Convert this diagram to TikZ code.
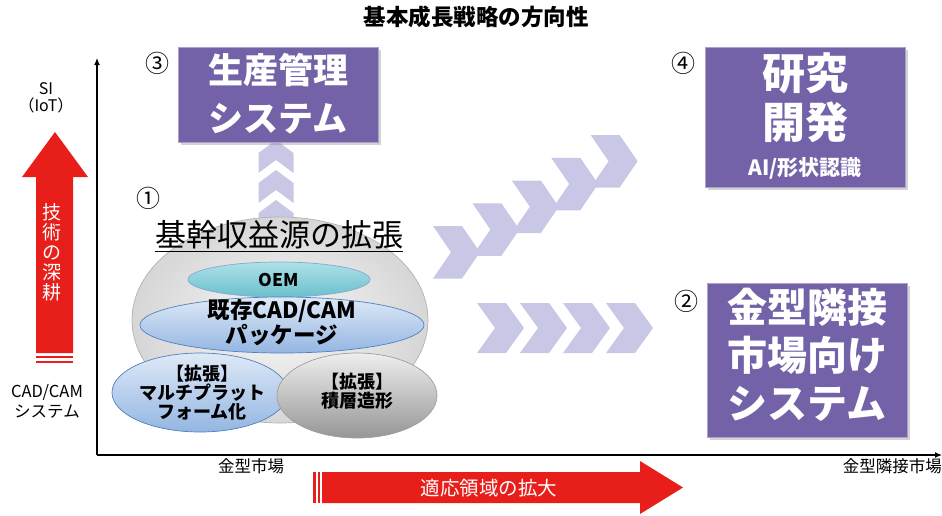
\documentclass[tikz,border=0pt]{standalone}
\usepackage{fontspec}
\setmainfont{Noto Sans CJK JP}
\usetikzlibrary{arrows.meta,shapes.geometric,shadows}
\definecolor{purp}{RGB}{115,98,168}
\definecolor{lav}{RGB}{200,200,230}
\definecolor{redA}{RGB}{232,30,26}
\definecolor{oemTop}{RGB}{175,225,232}
\definecolor{oemBot}{RGB}{105,192,204}
\definecolor{bluTop}{RGB}{222,233,247}
\definecolor{bluBot}{RGB}{148,182,226}
\definecolor{bluEdge}{RGB}{79,129,189}
\definecolor{gryTop}{RGB}{238,238,238}
\definecolor{gryBot}{RGB}{150,150,150}
\newcommand{\fsz}[2]{\fontsize{#1}{#2}\selectfont}
\begin{document}
\begin{tikzpicture}[x=1pt,y=-1pt,
  lbl/.style={inner sep=0, align=center, font=\fsz{16.5}{19.5}},
  num/.style={inner sep=0, font=\fsz{24}{24}},
  wtxt/.style={inner sep=0, align=center, text=white},
  btxt/.style={inner sep=0, align=center, font=\bfseries\fsz{18}{19}},
  pbox/.style={rectangle, fill=purp, draw=purp!60!white, line width=0.6pt, inner sep=0,
     drop shadow={shadow xshift=2.5pt, shadow yshift=-2.5pt, opacity=0.35}},
  ellbox/.style={ellipse, inner sep=0, line width=0.7pt},
  axisline/.style={line width=1.2pt, -{Latex[length=7pt,width=6pt]}},
  rchev/.pic={\fill[lav] (0,0) -- (29,0) -- (47,25) -- (29,50) -- (0,50) -- (18,25) -- cycle;},
  uchev/.pic={\fill[lav] (0,0) -- (17.5,13) -- (17.5,33) -- (0,20) -- (-17.5,33) -- (-17.5,13) -- cycle;},
]
\useasboundingbox (0,0) rectangle (942,515);

% title
\node[font=\bfseries\fsz{22.5}{24}, inner sep=0] (title) at (476,17) {基本成長戦略の方向性};

% axes
\coordinate (O) at (97,455);
\coordinate (ytop) at (97,58);
\coordinate (xend) at (942,455);
\draw[axisline] (O) -- (ytop);
\draw[axisline] (O) -- (xend);

% left labels
\node[lbl, font=\fsz{16}{17.5}] (si) at (46,98) {SI\\（IoT）};
\node[lbl] (cadsys) at (47,401.5) {CAD/CAM\\システム};

% left red arrow
\fill[redA] (36,353) -- (36,177) -- (22,177) -- (55,132) -- (88,177) -- (73,177) -- (73,353) -- cycle;
\fill[redA] (36,355.5) rectangle (73,358);
\fill[redA] (36,360.5) rectangle (73,363);
\node[wtxt, font=\fsz{19}{20}] (deep) at (52,252) {技\\術\\の\\深\\耕};

% bottom labels
\node[lbl] (xl) at (251,466) {金型市場};
\node[lbl, anchor=east] (xr) at (942,466) {金型隣接市場};

% bottom red arrow
\fill[redA] (322,472) -- (640,472) -- (640,461) -- (683,487.5) -- (640,514) -- (640,503) -- (322,503) -- cycle;
\fill[redA] (313,472) rectangle (315.5,503);
\fill[redA] (317.5,472) rectangle (320,503);
\node[wtxt, font=\fsz{19.5}{19.5}] (expand) at (489,488) {適応領域の拡大};

% chevrons
\foreach \i in {0,1,2} { \pic at (276,{140+30*\i}) {uchev}; }
\foreach \i in {0,1,2,3} { \pic at ({477+43*\i},303) {rchev}; }
\begin{scope}[shift={(433,226)}, rotate=30]
  \foreach \i in {0,...,4} { \pic[yscale=1.05] at ({45.5*\i},0) {rchev}; }
\end{scope}

% ellipses
\node[ellbox, minimum width=296pt, minimum height=206pt, draw=gray!60, inner color=gray!5, outer color=gray!32] (base) at (280,320) {};
\node[ellbox, minimum width=182pt, minimum height=35pt, draw=bluEdge!70, top color=oemTop, bottom color=oemBot] (oem) at (279,279.5) {};
\node[btxt, font=\bfseries\fsz{17.5}{18}] (oemt) at (oem.center) {OEM};
\node[ellbox, minimum width=284pt, minimum height=56pt, draw=bluEdge, top color=bluTop, bottom color=bluBot] (pkg) at (282,325) {};
\node[btxt, font=\bfseries\fsz{22.5}{21.5}] (pkgt) at (282,322.5) {既存CAD/CAM\\パッケージ};
\node[ellbox, minimum width=176pt, minimum height=79pt, draw=bluEdge, top color=bluTop, bottom color=bluBot] (multi) at (200,392.5) {};
\node[btxt, font=\bfseries\fsz{18}{19.2}] (multit) at (202,392.5) {【拡張】\\マルチプラット\\フォーム化};
\node[ellbox, minimum width=160pt, minimum height=85pt, draw=gray!75, top color=gryTop, bottom color=gryBot] (am) at (357,395.5) {};
\node[btxt, font=\bfseries\fsz{18}{18.5}] (amt) at (357,391) {【拡張】\\積層造形};

% core heading
\node[inner sep=0, font=\fsz{31}{31}] (core) at (279,235) {基幹収益源の拡張};
\draw[line width=0.9pt] ([yshift=-5pt]core.base west) -- ([yshift=-5pt]core.base east);

% purple boxes
\node[pbox, minimum width=200pt, minimum height=95pt] (b3) at (278,94.5) {};
\node[wtxt, font=\bfseries\fsz{35}{48}] (b3t) at (278,94) {生産管理\\システム};
\node[pbox, minimum width=200pt, minimum height=140pt] (b4) at (805,117) {};
\node[wtxt, font=\bfseries\fsz{43}{49}] (b4t) at (805,97.5) {研究\\開発};
\node[wtxt, font=\bfseries\fsz{21}{21}] (b4s) at (805,168) {AI/形状認識};
\node[pbox, minimum width=200pt, minimum height=154pt] (b2) at (807,360) {};
\node[wtxt, font=\bfseries\fsz{40}{48}] (b2t) at (807,355) {金型隣接\\市場向け\\システム};

% numbers
\node[num] (n1) at (148,198) {①};
\node[num] (n2) at (686,301) {②};
\node[num] (n3) at (157,63) {③};
\node[num] (n4) at (683,63) {④};
\end{tikzpicture}
\end{document}
